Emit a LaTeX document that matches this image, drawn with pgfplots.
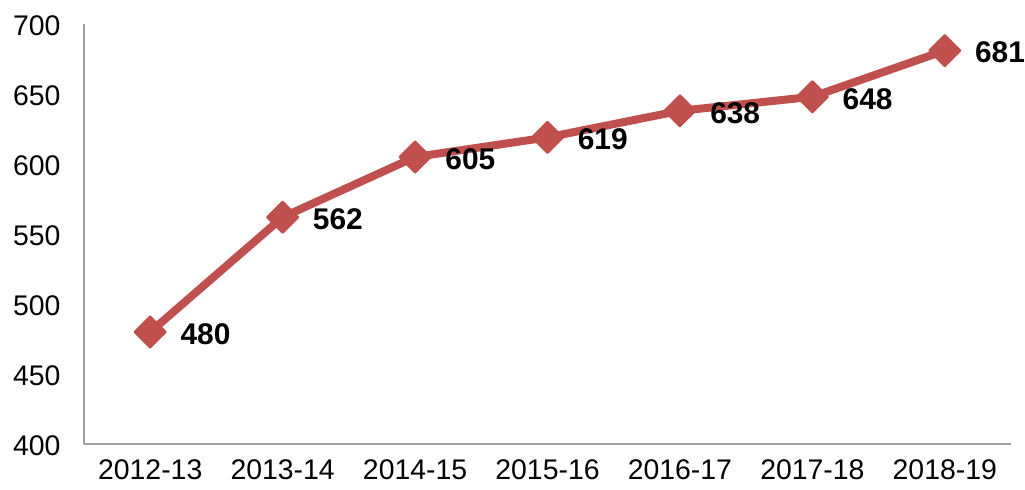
\documentclass[border=0pt]{standalone}
\usepackage{pgfplots}
\pgfplotsset{compat=1.18}
\usepackage{fontspec}
\setmainfont{Liberation Sans}
\definecolor{excelred}{HTML}{C0504D}
\definecolor{axisgray}{HTML}{A0A0A0}
\begin{document}
\begin{tikzpicture}[x=1bp,y=1bp]
\begin{axis}[
  at={(0,0)}, anchor=south west,
  scale only axis, width=927bp, height=420bp,
  xmin=-0.5, xmax=6.5, ymin=400, ymax=700,
  axis lines=left,
  axis line style={-, draw=axisgray, line width=1.5bp},
  xtick={0,1,2,3,4,5,6},
  xticklabels={2012-13,2013-14,2014-15,2015-16,2016-17,2017-18,2018-19},
  ytick={400,450,500,550,600,650,700},
  major tick length=0pt,
  /pgf/number format/assume math mode=true,
  /pgf/number format/set thousands separator={},
  tick label style={font=\fontsize{28.5}{31}\selectfont, black},
  xticklabel style={yshift=-12bp},
  yticklabel style={xshift=-20bp, yshift=-2bp},
  clip=false,
  nodes near coords,
  every node near coord/.append style={anchor=west, xshift=26bp, yshift=-2bp,
     font=\bfseries\fontsize{30}{32}\selectfont, black},
]
\addplot[color=excelred, line width=8bp, line join=round,
  mark=square*, mark size=11bp,
  mark options={rotate=45, fill=excelred, draw=excelred, line width=2bp, line join=round}]
  coordinates {(0,480) (1,562) (2,605) (3,619) (4,638) (5,648) (6,681)};
\end{axis}
\pgfresetboundingbox
\path (-84bp,-46bp) rectangle (941bp,444bp);
\end{tikzpicture}
\end{document}
